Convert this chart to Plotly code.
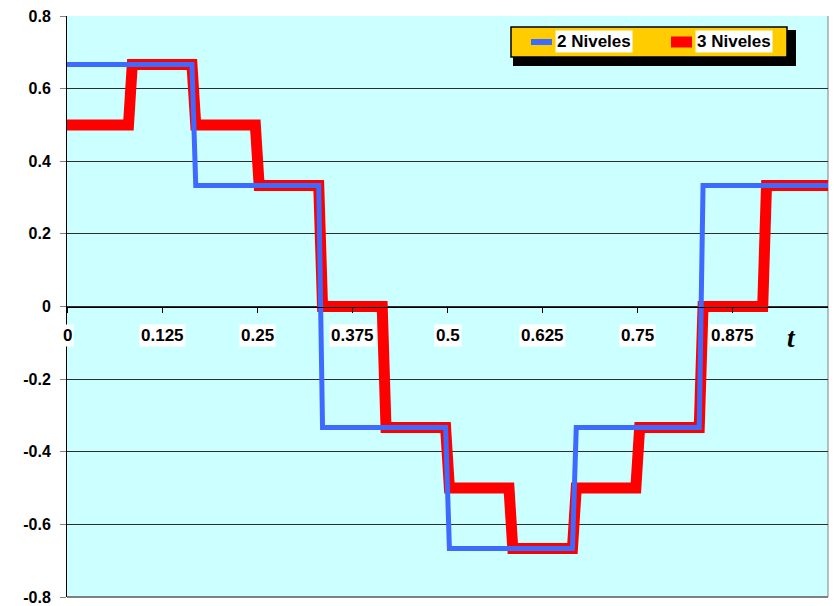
import plotly.graph_objects as go

# Step waveforms: breakpoints along t and the level held between them
t_2n = [0.0, 0.1667, 0.3333, 0.5, 0.6667, 0.8333, 1.0]
v_2n = [0.6667, 0.3333, -0.3333, -0.6667, -0.3333, 0.3333]

t_3n = [0.0, 0.0833, 0.1667, 0.25, 0.3333, 0.4167, 0.5,
        0.5833, 0.6667, 0.75, 0.8333, 0.9167, 1.0]
v_3n = [0.5, 0.6667, 0.5, 0.3333, 0.0, -0.3333, -0.5,
        -0.6667, -0.5, -0.3333, 0.0, 0.3333]

series_names = ["2 Niveles", "3 Niveles"]
x_ticks = [0.0, 0.125, 0.25, 0.375, 0.5, 0.625, 0.75, 0.875]
x_tick_text = ["0", "0.125", "0.25", "0.375", "0.5", "0.625", "0.75", "0.875"]
y_ticks = [-0.8, -0.6, -0.4, -0.2, 0.0, 0.2, 0.4, 0.6, 0.8]
y_tick_text = ["-0.8", "-0.6", "-0.4", "-0.2", "0", "0.2", "0.4", "0.6", "0.8"]

BLUE = "#3D6BFF"
RED = "#FF0000"
EDGE = 0.005  # width of the slightly slanted transitions


def step_path(bounds, levels):
    xs, ys = [bounds[0]], [levels[0]]
    for i in range(1, len(levels)):
        b = bounds[i]
        xs += [b - EDGE / 2, b + EDGE / 2]
        ys += [levels[i - 1], levels[i]]
    xs.append(bounds[-1])
    ys.append(levels[-1])
    return xs, ys


W, H = 834, 606
ML, MR, MT, MB = 67, 6, 16, 9
PW, PH = W - ML - MR, H - MT - MB


def px(p):
    return (p - ML) / PW


def py(p):
    return 1 - (p - MT) / PH


fig = go.Figure()
x3, y3 = step_path(t_3n, v_3n)
x2, y2 = step_path(t_2n, v_2n)
fig.add_trace(go.Scatter(x=x3, y=y3, mode="lines", name=series_names[1],
                         line=dict(color=RED, width=11), showlegend=False))
fig.add_trace(go.Scatter(x=x2, y=y2, mode="lines", name=series_names[0],
                         line=dict(color=BLUE, width=5), showlegend=False))

SANS = "Liberation Sans, Arial, sans-serif"
Y_FONT = dict(family=SANS, size=16, color="black", weight="bold")
X_FONT = dict(family=SANS, size=17, color="black", weight="bold")
LEG_FONT = dict(family=SANS, size=17, color="black", weight="bold")

# x tick labels sit below the axis line at y = 0 on white boxes
annotations = []
for xv, txt in zip(x_ticks, x_tick_text):
    annotations.append(dict(x=xv, y=0, xref="x", yref="y", text=txt,
                            showarrow=False, yshift=-29, bgcolor="white",
                            borderpad=1, font=X_FONT))
annotations.append(dict(x=px(798), y=0, xref="paper", yref="y", text="t",
                        showarrow=False, yshift=-31,
                        font=dict(family="Liberation Serif, Times New Roman, serif",
                                  size=27, color="black", weight="bold",
                                  style="italic")))

shapes = [
    # plot-area frame
    dict(type="line", xref="paper", yref="paper", x0=1, x1=1, y0=0, y1=1,
         line=dict(color="#808080", width=1), layer="below"),
    dict(type="line", xref="paper", yref="paper", x0=0, x1=1, y0=0, y1=0,
         line=dict(color="#808080", width=2), layer="above"),
]

# legend box with drop shadow
lx0, lx1, ly0, ly1 = 511, 787, 27, 57
shapes.append(dict(type="rect", xref="paper", yref="paper",
                   x0=px(lx0 + 2), x1=px(lx1 + 9), y0=py(ly1 + 9), y1=py(ly0 + 3),
                   fillcolor="black", line=dict(width=0), layer="above"))
shapes.append(dict(type="rect", xref="paper", yref="paper",
                   x0=px(lx0), x1=px(lx1), y0=py(ly1), y1=py(ly0),
                   fillcolor="#FFCC00", line=dict(color="black", width=1.5),
                   layer="above"))
legend_items = [(series_names[0], BLUE, 6, 531), (series_names[1], RED, 11, 671)]
for name, col, lw, sx in legend_items:
    shapes.append(dict(type="line", xref="paper", yref="paper",
                       x0=px(sx), x1=px(sx + 21), y0=py(42), y1=py(42),
                       line=dict(color=col, width=lw), layer="above"))
    annotations.append(dict(x=px(sx + 24), y=py(42), xref="paper", yref="paper",
                            text=name, showarrow=False, xanchor="left",
                            yanchor="middle", bgcolor="white", borderpad=1,
                            font=LEG_FONT))

fig.update_layout(
    width=W, height=H,
    margin=dict(l=ML, r=MR, t=MT, b=MB, autoexpand=False),
    paper_bgcolor="white",
    plot_bgcolor="#CCFFFF",
    showlegend=False,
    shapes=shapes,
    annotations=annotations,
    xaxis=dict(range=[0, 1], anchor="free", position=0.5,
               showline=True, linecolor="black", linewidth=1,
               ticks="outside", tickcolor="black", ticklen=5,
               tickvals=x_ticks, showticklabels=False, automargin=False,
               showgrid=False, zeroline=False, fixedrange=True),
    yaxis=dict(range=[-0.8, 0.8], tickvals=y_ticks, ticktext=y_tick_text,
               showline=True, linecolor="black", linewidth=1,
               ticks="outside", tickcolor="#808080", ticklen=6,
               ticklabelstandoff=6, automargin=False,
               tickfont=Y_FONT, showgrid=True, gridcolor="#2E2E2E",
               gridwidth=1, zeroline=False, fixedrange=True),
)

fig.write_html("out.html")
